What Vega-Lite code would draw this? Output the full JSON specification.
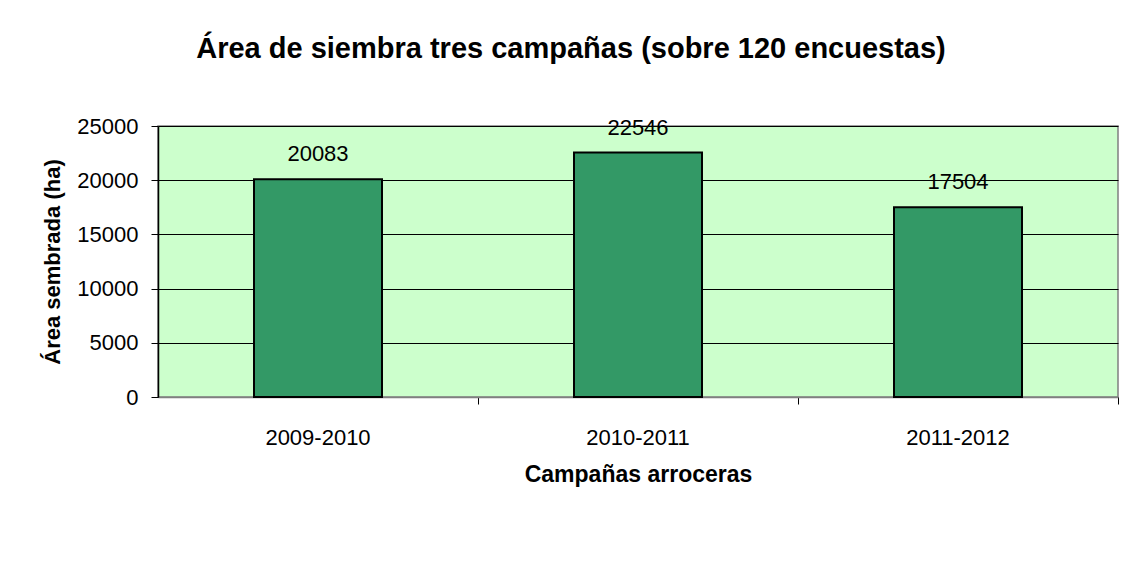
{
  "$schema": "https://vega.github.io/schema/vega-lite/v6.json",
  "width": 960,
  "height": 271,
  "autosize": "none",
  "padding": {"left": 158, "top": 126, "right": 5, "bottom": 165},
  "background": "white",
  "title": {
    "text": "Área de siembra tres campañas (sobre 120 encuestas)",
    "font": "Liberation Sans",
    "fontSize": 29,
    "fontWeight": "bold",
    "color": "#000000",
    "anchor": "middle",
    "frame": "group",
    "dx": -67,
    "baseline": "alphabetic",
    "offset": 28
  },
  "data": {
    "values": [
      {"campana": "2009-2010", "area": 20083},
      {"campana": "2010-2011", "area": 22546},
      {"campana": "2011-2012", "area": 17504}
    ]
  },
  "config": {
    "view": {"fill": "#ccffcc", "stroke": "#808080", "strokeWidth": 1.5},
    "font": "Liberation Sans"
  },
  "layer": [
    {
      "mark": {"type": "bar", "fill": "#339966", "stroke": "#000000", "strokeWidth": 2},
      "encoding": {
        "x": {
          "field": "campana", "type": "nominal", "sort": null,
          "scale": {"paddingInner": 0.6, "paddingOuter": 0.3},
          "axis": {"orient": "bottom", "labels": false, "title": null, "domain": false, "ticks": true, "tickSize": 7, "tickColor": "#000000", "bandPosition": 1.75, "tickExtra": false, "grid": false}
        },
        "y": {
          "field": "area", "type": "quantitative",
          "scale": {"domain": [0, 25000], "nice": false},
          "axis": {
            "values": [0, 5000, 10000, 15000, 20000, 25000],
            "format": "d",
            "title": "Área sembrada (ha)",
            "titleFont": "Liberation Sans", "titleFontSize": 22, "titleFontWeight": "bold", "titleColor": "#000000", "titlePadding": 12,
            "labelFont": "Liberation Sans", "labelFontSize": 22, "labelColor": "#000000", "labelPadding": 13,
            "tickSize": 7, "tickColor": "#000000", "domainColor": "#000000", "domainWidth": 1.5,
            "grid": true, "gridColor": "#000000", "gridWidth": 1
          }
        }
      }
    },
    {
      "mark": {"type": "text", "font": "Liberation Sans", "fontSize": 22, "color": "#000000", "baseline": "alphabetic", "dy": -18},
      "encoding": {
        "x": {
          "field": "campana", "type": "nominal", "sort": null,
          "axis": {"orient": "bottom", "title": "Campañas arroceras", "titleFont": "Liberation Sans", "titleFontSize": 23, "titleFontWeight": "bold", "titleColor": "#000000", "titlePadding": 15,
            "labelFont": "Liberation Sans", "labelFontSize": 22, "labelColor": "#000000", "labelPadding": 30, "labelAngle": 0,
            "ticks": false, "domain": true, "domainColor": "#808080", "domainWidth": 1.5, "grid": false}
        },
        "y": {"field": "area", "type": "quantitative"},
        "text": {"field": "area", "type": "quantitative", "format": "d"}
      }
    }
  ],
  "resolve": {"axis": {"x": "independent"}}
}
